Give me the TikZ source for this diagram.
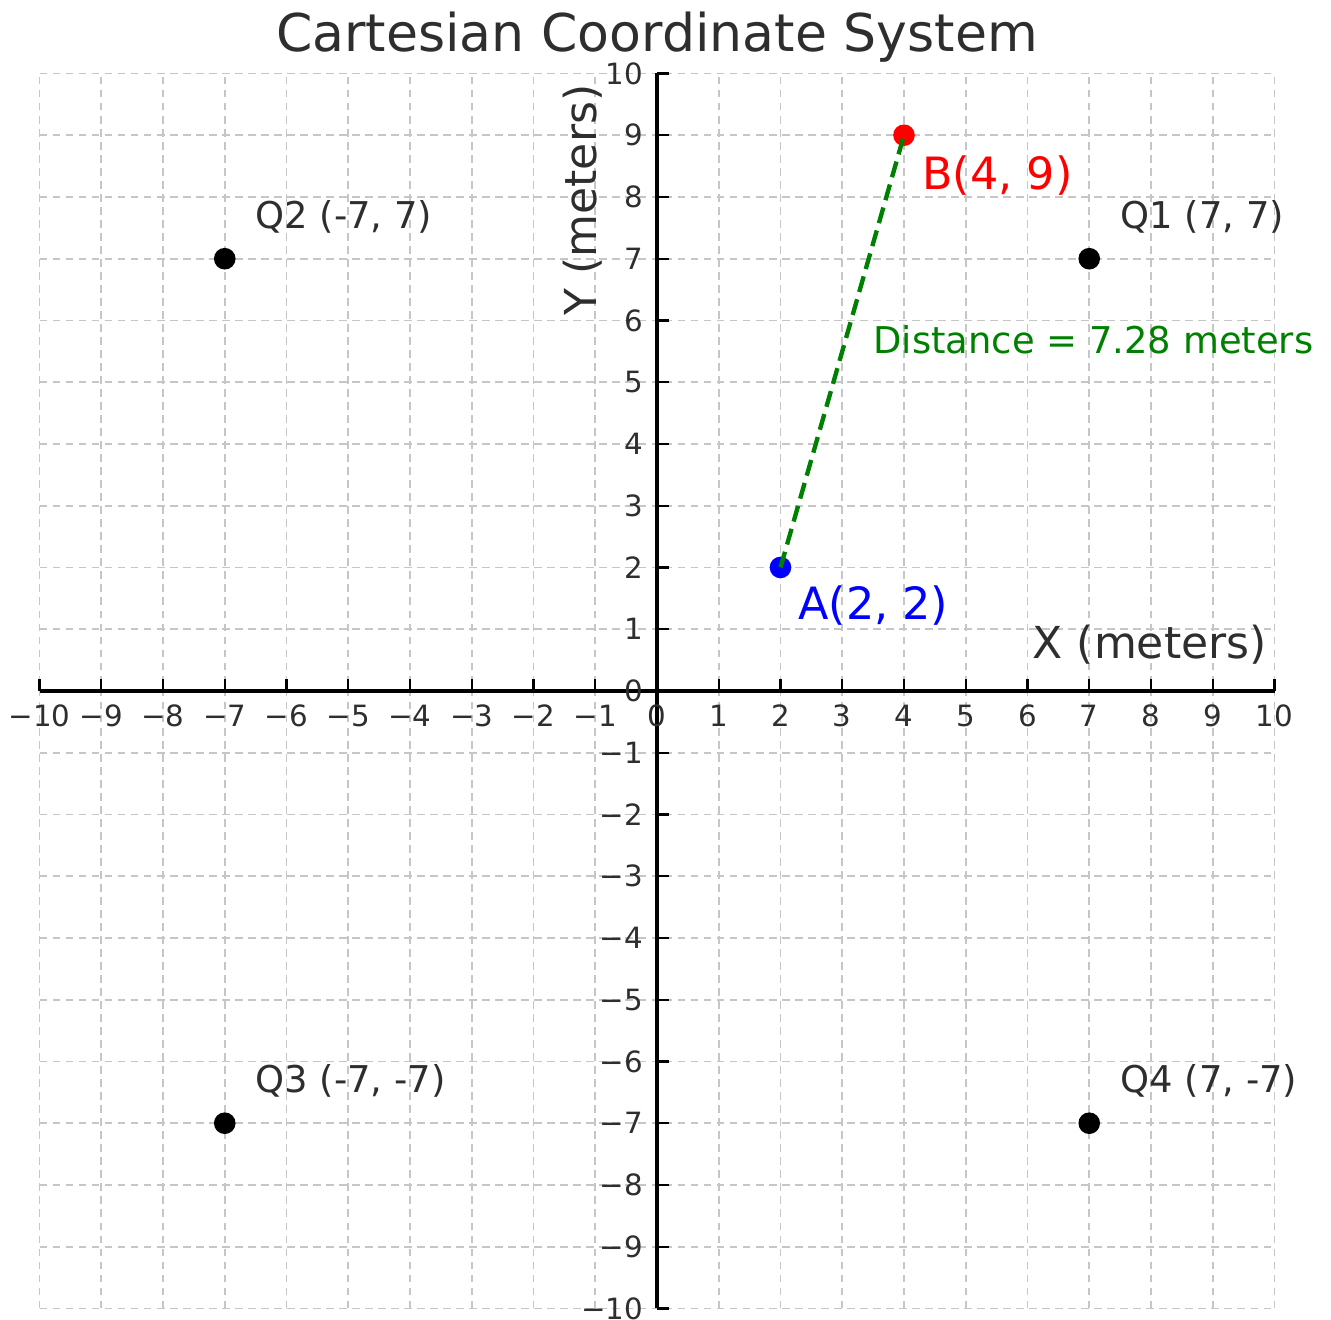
\documentclass[tikz,border=0pt]{standalone}
\usepackage{fontspec}
\setmainfont{DejaVu Sans}
\definecolor{txtgray}{HTML}{2E2E2E}
\definecolor{distgreen}{HTML}{008000}
\tikzset{
    pointdot/.style={circle, fill=black, inner sep=0pt, minimum size=0.35cm},
    ticklabel/.style={inner sep=0pt, text=txtgray, font=\fontsize{13.5}{15}\selectfont},
    quadlabel/.style={anchor=west, inner sep=0pt, text=txtgray, font=\fontsize{17}{20}\selectfont},
    ptlabel/.style={anchor=west, inner sep=0pt, font=\fontsize{20.5}{24}\selectfont},
    axislabel/.style={inner sep=0pt, text=txtgray, font=\fontsize{20.3}{24}\selectfont},
}
\begin{document}
\begin{tikzpicture}
    \useasboundingbox (-10.64,-10.186) rectangle (10.915,11.19);
    % Decoration
    \draw [gray!45, line width=0.8pt, dash pattern=on 3.6pt off 2.4pt, step=1cm] (-10,-10) grid (10,10);
    % Assi
    \draw [line width=1.5pt] (-10,0) -- (10,0); % asse x
    \draw [line width=1.5pt] (0,-10) -- (0,10); % asse y
    % Ticks
    \foreach \i in {-10,...,10} {
        \draw [line width=1pt] (\i,0) -- (\i,0.2);
        \draw [line width=1pt] (0,\i) -- (0.2,\i);
        \node [ticklabel] at (\i,-0.40) {\ifnum\i<0 −\number-\i\else\i\fi};
        \node [ticklabel, anchor=east] at (-0.22,\i) {\ifnum\i<0 −\number-\i\else\i\fi};
    }
    % Points
    \node [pointdot] (Q1) at (7,7) {};
    \node [pointdot] (Q2) at (-7,7) {};
    \node [pointdot] (Q3) at (-7,-7) {};
    \node [pointdot] (Q4) at (7,-7) {};
    \node [pointdot, fill=blue] (A) at (2,2) {};
    \node [pointdot, fill=red] (B) at (4,9) {};
    \draw [distgreen, line width=2pt, dash pattern=on 7.5pt off 3.5pt] (A.center) -- (B.center); % distance
    % Writing space
    \node [quadlabel] (q1lab) at (7.5,7.68) {Q1 (7, 7)};
    \node [quadlabel] (q2lab) at (-6.51,7.68) {Q2 (-7, 7)};
    \node [quadlabel] (q3lab) at (-6.51,-6.32) {Q3 (-7, -7)};
    \node [quadlabel] (q4lab) at (7.5,-6.32) {Q4 (7, -7)};
    \node [ptlabel, text=blue] (alab) at (2.28,1.38) {A(2, 2)};
    \node [ptlabel, text=red] (blab) at (4.29,8.34) {B(4, 9)};
    \node [anchor=west, inner sep=0pt, text=distgreen, font=\fontsize{17}{20}\selectfont] (dlab) at (3.50,5.68) {Distance = 7.28 meters};
    \node [axislabel] (xlab) at (7.98,0.745) {X (meters)};
    \node [axislabel, rotate=90] (ylab) at (-1.20,7.95) {Y (meters)};
    \node [inner sep=0pt, text=txtgray, font=\fontsize{24}{28}\selectfont] (title) at (0,10.59) {Cartesian Coordinate System};
\end{tikzpicture}
\end{document}
